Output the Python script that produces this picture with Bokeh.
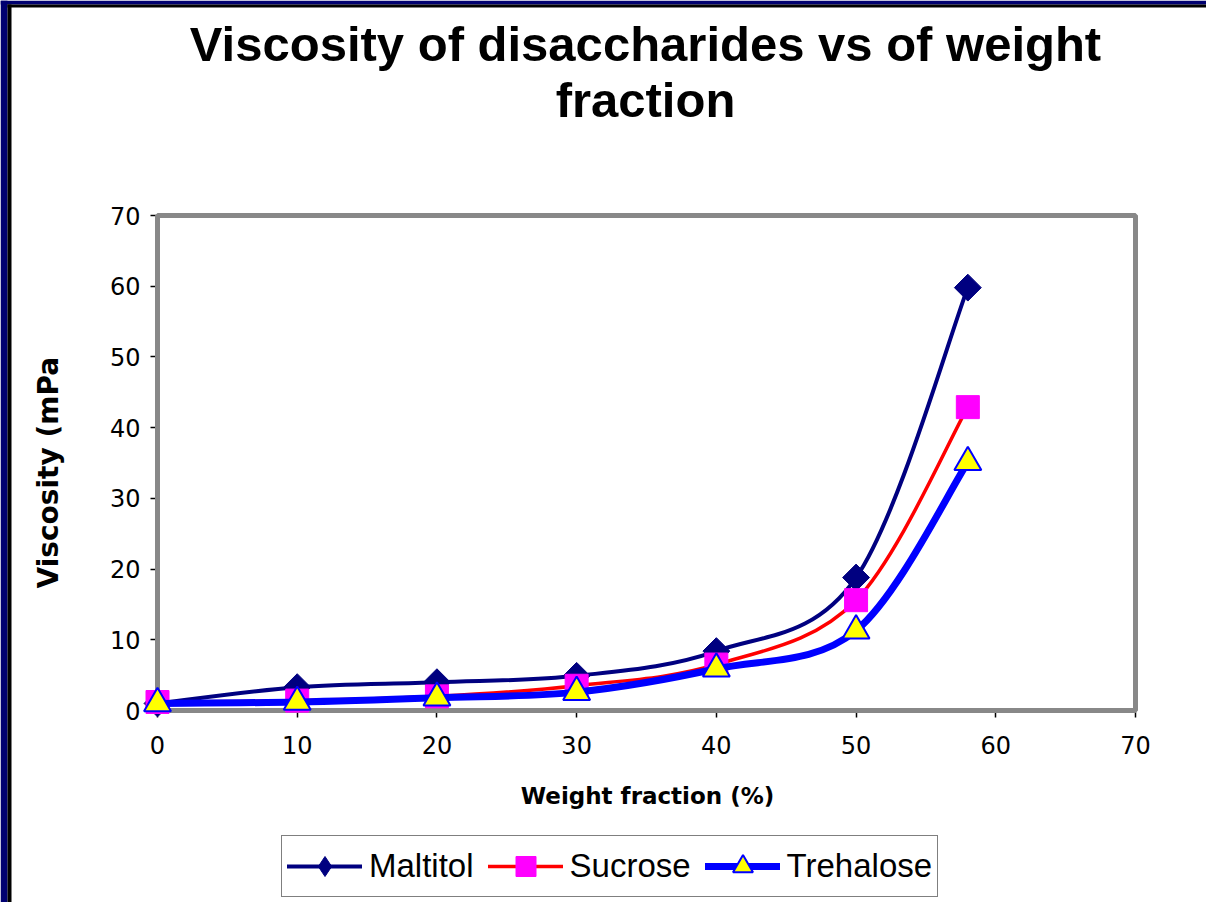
import math
from bokeh.plotting import figure
from bokeh.models import (Range1d, Label, Legend, LegendItem, FixedTicker,
                          ColumnDataSource, LinearAxis, BoxAnnotation)
from bokeh.embed import file_html
from bokeh.resources import INLINE

# ---------------- data ----------------
weight_fraction = [0, 10, 20, 30, 40, 50, 58]
maltitol = [1.0, 3.3, 4.0, 4.9, 8.4, 18.8, 59.8]
sucrose = [1.2, 1.4, 2.0, 3.5, 6.5, 15.6, 42.9]
trehalose = [1.0, 1.2, 1.8, 2.6, 5.9, 11.3, 35.1]
series_names = ["Maltitol", "Sucrose", "Trehalose"]
x_ticks = [0, 10, 20, 30, 40, 50, 60, 70]
y_ticks = [0, 10, 20, 30, 40, 50, 60, 70]
title_lines = ["Viscosity of disaccharides vs of weight", "fraction"]
x_title = "Weight fraction (%)"
y_title = "Viscosity (mPa"

NAVY = "#000080"
W, H = 1206, 902
# page pixel geometry of the plot area (x 0..70, y 0..70)
FX0, FX1, FY0, FY1 = 157, 1135, 710, 215
px_x = 70.0 / (FX1 - FX0)
px_y = 70.0 / (FY0 - FY1)


def dx(px):
    return (px - FX0) * px_x


def dy(py):
    return (FY0 - py) * px_y


p = figure(width=W, height=H, x_range=Range1d(dx(0), dx(W)), y_range=Range1d(dy(H), dy(0)),
           output_backend="svg", toolbar_location=None, title=None,
           x_axis_location=None, y_axis_location=None,
           min_border=0, min_border_left=0, min_border_right=0, min_border_top=0,
           min_border_bottom=0)
p.background_fill_color = "white"
p.border_fill_color = "white"
p.outline_line_color = None
p.xgrid.visible = False
p.ygrid.visible = False

# page frame (navy with black inner line)
p.add_layout(BoxAnnotation(right=dx(7), fill_color="#000070", fill_alpha=1, line_color=None))
p.add_layout(BoxAnnotation(bottom=dy(4), fill_color="#000070", fill_alpha=1, line_color=None))
p.add_layout(BoxAnnotation(left=dx(7), right=dx(11), top=dy(4), fill_color="black",
                           fill_alpha=1, line_color=None))
p.add_layout(BoxAnnotation(left=dx(7), bottom=dy(7), top=dy(4), fill_color="black",
                           fill_alpha=1, line_color=None))

# plot-area border
p.add_layout(BoxAnnotation(left=x_ticks[0], right=x_ticks[-1], bottom=y_ticks[0],
                           top=y_ticks[-1], fill_color=None, fill_alpha=0,
                           line_color="#888888", line_alpha=1, line_width=5,
                           level="underlay"))

xaxis = LinearAxis(fixed_location=y_ticks[0], bounds=(x_ticks[0], x_ticks[-1]))
yaxis = LinearAxis(fixed_location=x_ticks[0], bounds=(y_ticks[0], y_ticks[-1]))
for ax, ticks in ((xaxis, x_ticks), (yaxis, y_ticks)):
    ax.ticker = FixedTicker(ticks=ticks)
    ax.axis_line_color = "#6f6f6f"
    ax.axis_line_width = 3
    ax.major_tick_line_color = "black"
    ax.major_tick_line_width = 1.5
    ax.major_tick_out = 7
    ax.major_tick_in = 0
    ax.minor_tick_line_color = None
    ax.major_label_text_font = "DejaVu Sans"
    ax.major_label_text_font_size = "24px"
    ax.major_label_text_color = "black"
    ax.level = "underlay"
xaxis.major_label_standoff = 18
yaxis.major_label_standoff = 10
p.add_layout(xaxis, "below")
p.add_layout(yaxis, "left")


def smooth_segments(xs, ys):
    n = len(xs)
    d = dict(x0=[], y0=[], x1=[], y1=[], cx0=[], cy0=[], cx1=[], cy1=[])
    for i in range(n - 1):
        a = max(i - 1, 0)
        b = min(i + 2, n - 1)
        d["x0"].append(xs[i]); d["y0"].append(ys[i])
        d["x1"].append(xs[i + 1]); d["y1"].append(ys[i + 1])
        d["cx0"].append(xs[i] + (xs[i + 1] - xs[a]) / 6)
        d["cy0"].append(ys[i] + (ys[i + 1] - ys[a]) / 6)
        d["cx1"].append(xs[i + 1] - (xs[b] - xs[i]) / 6)
        d["cy1"].append(ys[i + 1] - (ys[b] - ys[i]) / 6)
    return ColumnDataSource(d)


styles = [
    dict(line_color=NAVY, line_width=4, marker="square", angle=math.pi / 4, size=19,
         fill_color=NAVY, mline=NAVY, mwidth=1, lmarker="diamond"),
    dict(line_color="#FF0000", line_width=3.5, marker="square", angle=0, size=23,
         fill_color="#FF00FF", mline="#FF00FF", mwidth=1, lmarker="square"),
    dict(line_color="#0000FF", line_width=7, marker="triangle", angle=0, size=27,
         fill_color="#FFFF00", mline="#0000FF", mwidth=2, lmarker="triangle"),
]

NAN = float("nan")
items = []
for name, vals, st in zip(series_names, [maltitol, sucrose, trehalose], styles):
    src = smooth_segments(weight_fraction, vals)
    p.bezier(x0="x0", y0="y0", x1="x1", y1="y1", cx0="cx0", cy0="cy0", cx1="cx1",
             cy1="cy1", source=src, line_color=st["line_color"],
             line_width=st["line_width"], line_cap="round")
    p.scatter(x=weight_fraction, y=vals, marker=st["marker"], size=st["size"],
              angle=st["angle"], fill_color=st["fill_color"],
              line_color=st["mline"], line_width=st["mwidth"])
    # legend-only renderers (no visible data)
    lg_line = p.line(x=[NAN, NAN], y=[NAN, NAN], line_color=st["line_color"],
                     line_width=st["line_width"], line_cap="round")
    lg_mark = p.scatter(x=[NAN], y=[NAN], marker=st["lmarker"], size=20,
                        fill_color=st["fill_color"], line_color=st["mline"],
                        line_width=st["mwidth"])
    items.append(LegendItem(label=name, renderers=[lg_line, lg_mark]))

legend = Legend(items=items, orientation="horizontal", location=(281, 5),
                glyph_width=75, glyph_height=50, label_text_font="Liberation Sans",
                label_text_font_size="33px", label_text_color="black",
                label_standoff=7, spacing=14, padding=5,
                margin=0, border_line_color="black", border_line_width=1.5,
                background_fill_color="white", background_fill_alpha=1)
p.add_layout(legend)

p.add_layout(Label(x=dx(645), y=dy(43), text=title_lines[0], text_align="center",
                   text_baseline="alphabetic", text_font="Liberation Sans",
                   text_font_style="bold", text_font_size="49px", text_color="black"))
p.add_layout(Label(x=dx(645), y=dy(99), text=title_lines[1], text_align="center",
                   text_baseline="alphabetic", text_font="Liberation Sans",
                   text_font_style="bold", text_font_size="49px", text_color="black"))
p.add_layout(Label(x=dx(647), y=dy(795), text=x_title, text_align="center",
                   text_baseline="alphabetic", text_font="DejaVu Sans",
                   text_font_style="bold", text_font_size="23px", text_color="black"))
p.add_layout(Label(x=dx(48), y=dy(588), text=y_title, angle=math.pi / 2,
                   text_align="left", text_baseline="alphabetic", text_font="DejaVu Sans",
                   text_font_style="bold", text_font_size="28px", text_color="black"))

open("out.html", "w").write(file_html(p, INLINE))
